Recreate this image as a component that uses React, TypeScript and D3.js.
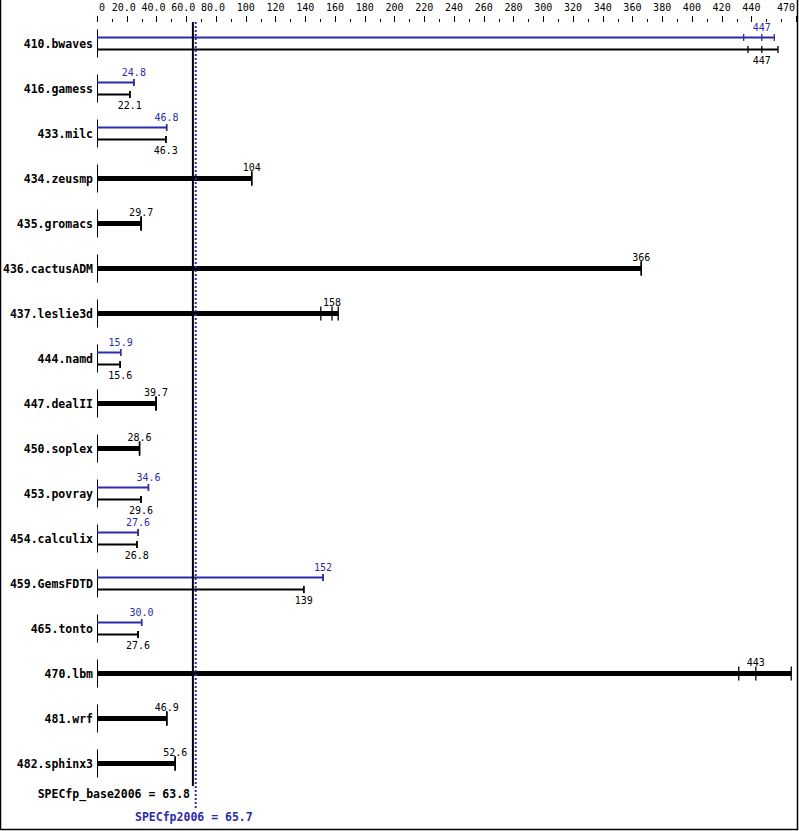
import React from "react";
import * as d3 from "d3";

const benchmarks = ["410.bwaves", "416.gamess", "433.milc", "434.zeusmp", "435.gromacs", "436.cactusADM", "437.leslie3d", "444.namd", "447.dealII", "450.soplex", "453.povray", "454.calculix", "459.GemsFDTD", "465.tonto", "470.lbm", "481.wrf", "482.sphinx3"];
const baseMedian = [447, 22.1, 46.3, 104, 29.7, 366, 158, 15.6, 39.7, 28.6, 29.6, 26.8, 139, 27.6, 443, 46.9, 52.6];
const baseMin = [437.7, 22.1, 46.3, 104, 29.7, 366, 150.5, 15.6, 39.7, 28.6, 29.6, 26.8, 139, 27.6, 431.5, 46.9, 52.6];
const baseMax = [457.9, 22.1, 46.3, 104, 29.7, 366, 162.2, 15.6, 39.7, 28.6, 29.6, 26.8, 139, 27.6, 466.8, 46.9, 52.6];
const peakMedian: (number | null)[] = [447, 24.8, 46.8, null, null, null, null, 15.9, null, null, 34.6, 27.6, 152, 30.0, null, null, null];
const peakMin: (number | null)[] = [434.8, 24.8, 46.8, null, null, null, null, 15.9, null, null, 34.6, 27.6, 152, 30.0, null, null, null];
const peakMax: (number | null)[] = [455.4, 24.8, 46.8, null, null, null, null, 15.9, null, null, 34.6, 27.6, 152, 30.0, null, null, null];

const majorTicks = [0, 20, 40, 60, 80, 100, 120, 140, 160, 180, 200, 220, 240, 260, 280, 300, 320, 340, 360, 380, 400, 420, 440, 470];
const majorLabels = ["0", "20.0", "40.0", "60.0", "80.0", "100", "120", "140", "160", "180", "200", "220", "240", "260", "280", "300", "320", "340", "360", "380", "400", "420", "440", "470"];
const minorTicks = [10, 30, 50, 70, 90, 110, 130, 150, 170, 190, 210, 230, 250, 270, 290, 310, 330, 350, 370, 390, 410, 430, 450, 460];

const baseScore = 63.8;
const peakScore = 65.7;
const baseLabel = "SPECfp_base2006 = 63.8";
const peakLabel = "SPECfp2006 = 65.7";

const BLUE = "#2b2bab";
const FONT = "'DejaVu Sans Mono', monospace";

export default function App() {
  const W = 799, H = 831;
  const x = d3.scaleLinear().domain([0, 470]).range([97, 796]);
  const y = d3.scalePoint<string>().domain(benchmarks).range([43.5, 43.5 + 45 * (benchmarks.length - 1)]);
  const fmt = d3.format(".3r");

  const labelDx = (l: string, i: number) => {
    if (i === 0) return 5;
    if (i === majorTicks.length - 1) return -10;
    if (l.includes(".")) return -3;
    return 0;
  };

  return (
    <svg width={W} height={H} style={{ position: "absolute", left: 0, top: 0, background: "#fff" }} fontFamily={FONT}>
      <rect x={0} y={0} width={W} height={H} fill="#fff" />
      {/* border */}
      <line x1={0.5} y1={0} x2={0.5} y2={830} stroke="#000" strokeWidth={1.5} />
      <line x1={797.5} y1={0} x2={797.5} y2={830} stroke="#000" strokeWidth={1.5} />
      <line x1={0} y1={829.5} x2={798} y2={829.5} stroke="#000" strokeWidth={1.5} />

      {/* top axis */}
      {majorTicks.map((t, i) => (
        <g key={"M" + t}>
          <line x1={Math.round(x(t)) + 0.5} x2={Math.round(x(t)) + 0.5} y1={16} y2={22} stroke="#000" />
          <text x={x(t) + labelDx(majorLabels[i], i)} y={10.5} fontSize={10} textAnchor="middle" fill="#000">
            {majorLabels[i]}
          </text>
        </g>
      ))}
      {minorTicks.map((t) => (
        <line key={"m" + t} x1={Math.round(x(t)) + 0.5} x2={Math.round(x(t)) + 0.5} y1={19} y2={22} stroke="#000" />
      ))}

      {/* rows */}
      {benchmarks.map((b, i) => {
        const cy = y(b)!;
        const pm = peakMedian[i];
        const x0 = x(0);
        const els: React.ReactNode[] = [];
        els.push(
          <text key="lab" x={93} y={cy + 4} fontSize={11.5} fontWeight="bold" textAnchor="end" fill="#000">
            {b}
          </text>
        );
        els.push(<line key="ax" x1={97.5} x2={97.5} y1={cy - 14} y2={cy + 14} stroke="#000" />);
        if (pm == null) {
          const mx = x(baseMax[i]);
          els.push(<line key="bar" x1={x0} x2={mx} y1={cy} y2={cy} stroke="#000" strokeWidth={5} />);
          [baseMin[i], baseMedian[i], baseMax[i]].forEach((v, k) =>
            els.push(<line key={"c" + k} x1={x(v)} x2={x(v)} y1={cy - 7} y2={cy + 7} stroke="#000" strokeWidth={1.3} />)
          );
          els.push(
            <text key="v" x={x(baseMedian[i])} y={cy - 7.5} fontSize={10} textAnchor="middle" fill="#000">
              {fmt(baseMedian[i])}
            </text>
          );
        } else {
          const py = cy - 6, by = cy + 6;
          els.push(<line key="pbar" x1={x0} x2={x(peakMax[i]!)} y1={py} y2={py} stroke={BLUE} strokeWidth={2} />);
          [peakMin[i]!, pm, peakMax[i]!].forEach((v, k) =>
            els.push(<line key={"pc" + k} x1={x(v)} x2={x(v)} y1={py - 3.5} y2={py + 3.5} stroke={BLUE} strokeWidth={1.3} />)
          );
          els.push(
            <text key="pv" x={x(pm)} y={py - 6.5} fontSize={10} textAnchor="middle" fill={BLUE}>
              {fmt(pm)}
            </text>
          );
          els.push(<line key="bbar" x1={x0} x2={x(baseMax[i])} y1={by} y2={by} stroke="#000" strokeWidth={2} />);
          [baseMin[i], baseMedian[i], baseMax[i]].forEach((v, k) =>
            els.push(<line key={"bc" + k} x1={x(v)} x2={x(v)} y1={by - 3.5} y2={by + 3.5} stroke="#000" strokeWidth={1.3} />)
          );
          els.push(
            <text key="bv" x={x(baseMedian[i])} y={by + 14.5} fontSize={10} textAnchor="middle" fill="#000">
              {fmt(baseMedian[i])}
            </text>
          );
        }
        return <g key={b}>{els}</g>;
      })}

      {/* score lines */}
      <line x1={x(baseScore) + 1} x2={x(baseScore) + 1} y1={22} y2={786} stroke="#000" strokeWidth={2} />
      <line x1={x(peakScore) + 1} x2={x(peakScore) + 1} y1={22} y2={808} stroke={BLUE} strokeWidth={2} strokeDasharray="2,2" />

      <text x={190} y={797.5} fontSize={11.5} fontWeight="bold" textAnchor="end" fill="#000">
        {baseLabel}
      </text>
      <text x={135} y={820.5} fontSize={11.5} fontWeight="bold" textAnchor="start" fill={BLUE}>
        {peakLabel}
      </text>
    </svg>
  );
}
